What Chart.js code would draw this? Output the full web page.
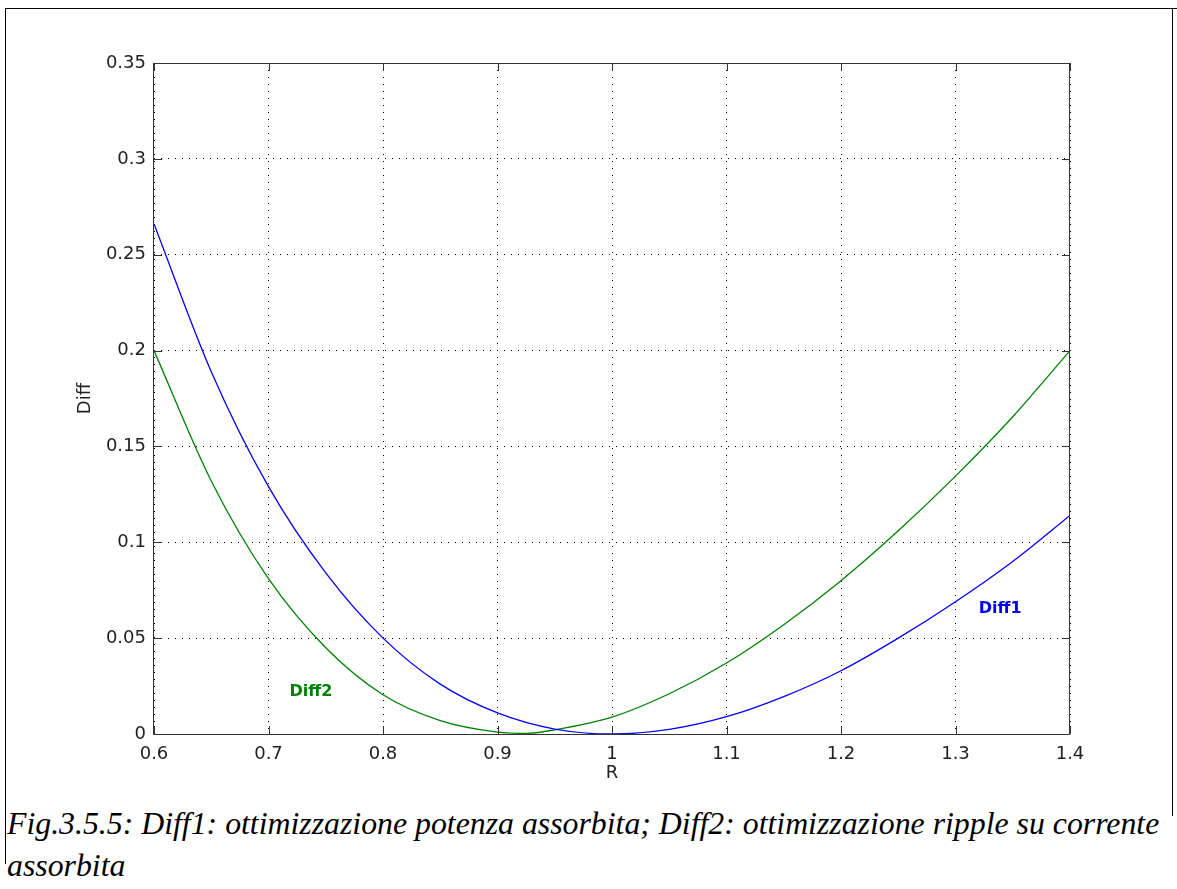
<!DOCTYPE html>
<html>
<head>
<meta charset="utf-8">
<script src="https://cdn.jsdelivr.net/npm/chart.js@4.4.1/dist/chart.umd.min.js"></script>
<style>
  html, body { margin: 0; padding: 0; background: #fff; }
  body { width: 1177px; height: 889px; position: relative; overflow: hidden; }
  #wrap { position: absolute; left: 0; top: 0; width: 1177px; height: 800px; }
  .rule { position: absolute; background: #000; }
  #caption {
    position: absolute; left: 7px; top: 803px;
    font-family: "Liberation Serif", "Times New Roman", serif;
    font-style: italic; font-size: 31.8px; line-height: 42px;
    color: #000; white-space: nowrap;
  }
</style>
</head>
<body>
<div class="rule" style="left:5px;top:8px;width:1172px;height:1px;"></div>
<div class="rule" style="left:5px;top:8px;width:1px;height:856px;"></div>
<div class="rule" style="left:1172px;top:8px;width:1px;height:808px;"></div>
<div id="wrap"><canvas id="chart" width="1177" height="800"></canvas></div>
<div id="caption">Fig.3.5.5: Diff1: ottimizzazione potenza assorbita; Diff2: ottimizzazione ripple su corrente<br>assorbita</div>
<script>
// R values and the two difference curves
const rDiff1 = [0.60, 0.65, 0.70, 0.75, 0.80, 0.85, 0.90, 0.95, 1.00, 1.05, 1.10, 1.15, 1.20, 1.25, 1.30, 1.35, 1.40];
const diff1  = [0.266, 0.189, 0.129, 0.084, 0.050, 0.026, 0.011, 0.0026, 0.000, 0.0024, 0.009, 0.0195, 0.033, 0.050, 0.069, 0.090, 0.114];

const rDiff2 = [0.60, 0.65, 0.70, 0.75, 0.80, 0.85, 0.90, 0.925, 0.95, 1.00, 1.05, 1.10, 1.15, 1.20, 1.25, 1.30, 1.35, 1.40];
const diff2  = [0.200, 0.132, 0.081, 0.045, 0.0205, 0.007, 0.0010, 0.0003, 0.0022, 0.0088, 0.021, 0.037, 0.057, 0.080, 0.106, 0.1345, 0.1655, 0.200];

// Axis ticks
const xTicks = [0.6, 0.7, 0.8, 0.9, 1.0, 1.1, 1.2, 1.3, 1.4];
const xTickLabels = ['0.6', '0.7', '0.8', '0.9', '1', '1.1', '1.2', '1.3', '1.4'];
const yTicks = [0, 0.05, 0.1, 0.15, 0.2, 0.25, 0.3, 0.35];
const yTickLabels = ['0', '0.05', '0.1', '0.15', '0.2', '0.25', '0.3', '0.35'];

// In-plot curve labels
const curveLabels = ['Diff1', 'Diff2'];
const curveLabelR = [1.339, 0.737];
const curveLabelV = [0.0652, 0.0219];
const curveColors = ['#0000ff', '#008000'];

const tickFont = { family: '"DejaVu Sans", Verdana, sans-serif', size: 18 };

// Axes box with inward major ticks, plus the curve labels
const axesBox = {
  id: 'axesBox',
  afterDatasetsDraw(chart) {
    const { ctx, chartArea: a, scales: { x, y } } = chart;
    ctx.save();
    ctx.strokeStyle = '#333';
    ctx.lineWidth = 1;
    ctx.strokeRect(Math.round(a.left) - 0.5, Math.round(a.top) + 0.5,
                   Math.round(a.right) - Math.round(a.left), Math.round(a.bottom) - Math.round(a.top));
    const t = 8;
    ctx.beginPath();
    xTicks.forEach(v => {
      const px = Math.round(x.getPixelForValue(v)) + 0.5;
      ctx.moveTo(px, a.bottom); ctx.lineTo(px, a.bottom - t);
      ctx.moveTo(px, a.top); ctx.lineTo(px, a.top + t);
    });
    yTicks.forEach(v => {
      const py = Math.round(y.getPixelForValue(v)) + 0.5;
      ctx.moveTo(a.left, py); ctx.lineTo(a.left + t, py);
      ctx.moveTo(a.right, py); ctx.lineTo(a.right - t, py);
    });
    ctx.stroke();

    ctx.font = 'bold 16px "DejaVu Sans", Verdana, sans-serif';
    ctx.textAlign = 'center';
    ctx.textBaseline = 'middle';
    curveLabels.forEach((txt, i) => {
      ctx.fillStyle = curveColors[i];
      ctx.fillText(txt, x.getPixelForValue(curveLabelR[i]), y.getPixelForValue(curveLabelV[i]));
    });
    ctx.restore();
  }
};

new Chart(document.getElementById('chart'), {
  type: 'line',
  data: {
    datasets: [
      {
        label: 'Diff1',
        data: rDiff1.map((r, i) => ({ x: r, y: diff1[i] })),
        borderColor: curveColors[0],
        borderWidth: 1.3,
        pointRadius: 0,
        cubicInterpolationMode: 'monotone',
        fill: false
      },
      {
        label: 'Diff2',
        data: rDiff2.map((r, i) => ({ x: r, y: diff2[i] })),
        borderColor: curveColors[1],
        borderWidth: 1.3,
        pointRadius: 0,
        cubicInterpolationMode: 'monotone',
        fill: false
      }
    ]
  },
  options: {
    responsive: false,
    animation: false,
    events: [],
    layout: { padding: { left: 0, top: 63, right: 107, bottom: 0 } },
    plugins: { legend: { display: false }, tooltip: { enabled: false } },
    scales: {
      x: {
        type: 'linear',
        min: 0.6, max: 1.4,
        afterBuildTicks: s => { s.ticks = xTicks.map(v => ({ value: v })); },
        afterFit: s => { s.height = 66; },
        ticks: {
          callback: (v, i) => xTickLabels[i],
          font: tickFont, color: '#222', padding: 10, maxRotation: 0
        },
        grid: { color: '#000', lineWidth: 1, drawTicks: false },
        border: { display: false, dash: [1, 6] },
        title: {
          display: true, text: 'R', color: '#222',
          font: tickFont, padding: { top: 0, bottom: 16 }
        }
      },
      y: {
        type: 'linear',
        min: 0, max: 0.35,
        afterBuildTicks: s => { s.ticks = yTicks.map(v => ({ value: v })); },
        afterFit: s => { s.width = 154; },
        ticks: {
          callback: (v, i) => yTickLabels[i],
          font: tickFont, color: '#222', padding: 8
        },
        grid: { color: '#000', lineWidth: 1, drawTicks: false },
        border: { display: false, dash: [1, 6] },
        title: {
          display: true, text: 'Diff', color: '#222',
          font: tickFont, padding: { top: 75, bottom: 0 }
        }
      }
    }
  },
  plugins: [axesBox]
});
</script>
</body>
</html>
